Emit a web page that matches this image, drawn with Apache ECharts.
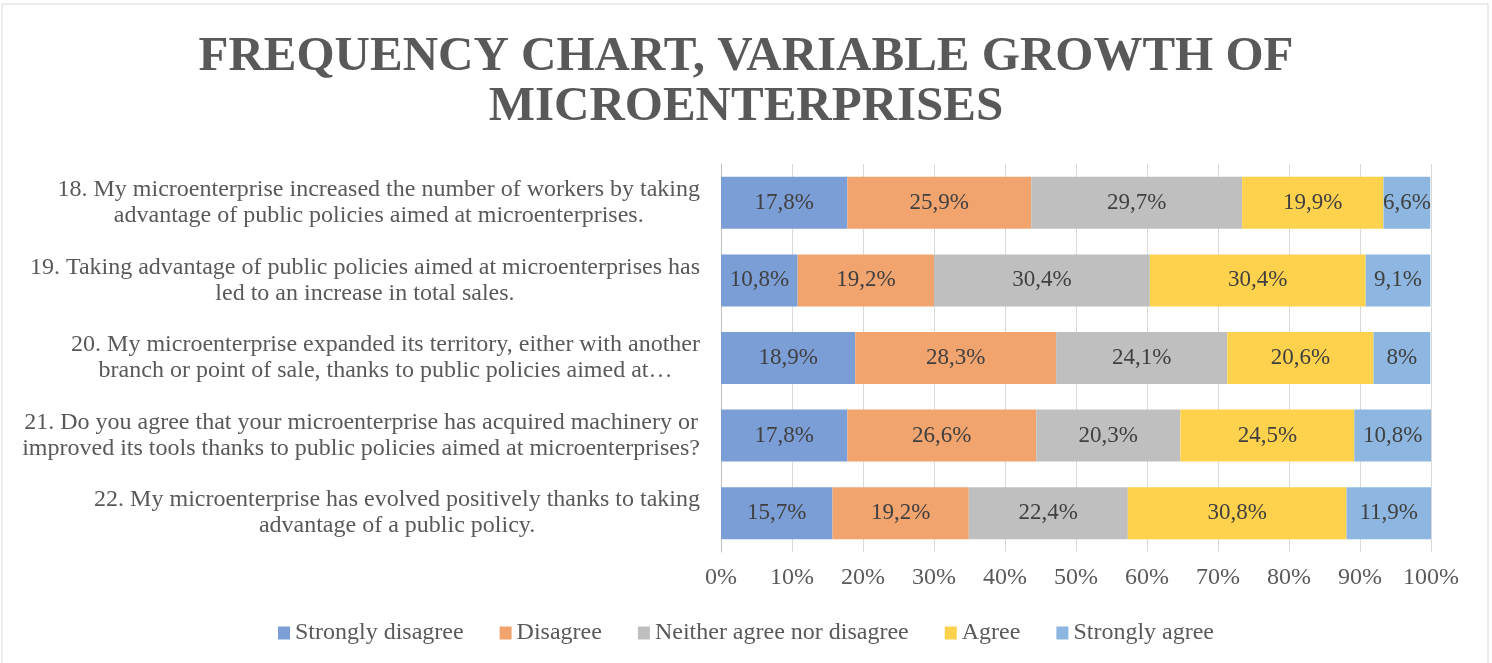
<!DOCTYPE html>
<html>
<head>
<meta charset="utf-8">
<title>Frequency chart, variable growth of microenterprises</title>
<script src="https://cdn.jsdelivr.net/npm/echarts@6/dist/echarts.min.js"></script>
<style>
    html, body { margin: 0; padding: 0; background: #fff; }
    #chart { width: 1492px; height: 663px; }
</style>
</head>
<body>
<div id="chart"></div>
<script>
var questions = [
    '18. My microenterprise increased the number of workers by taking\nadvantage of public policies aimed at microenterprises.',
    '19. Taking advantage of public policies aimed at microenterprises has\nled to an increase in total sales.',
    '20. My microenterprise expanded its territory, either with another\nbranch or point of sale, thanks to public policies aimed at…',
    '21. Do you agree that your microenterprise has acquired machinery or\nimproved its tools thanks to public policies aimed at microenterprises?',
    '22. My microenterprise has evolved positively thanks to taking\nadvantage of a public policy.'
];
var answers = ['Strongly disagree', 'Disagree', 'Neither agree nor disagree', 'Agree', 'Strongly agree'];

// percent per answer, one value per question (18..22)
var stronglyDisagree = [17.8, 10.8, 18.9, 17.8, 15.7];
var disagree = [25.9, 19.2, 28.3, 26.6, 19.2];
var neither = [29.7, 30.4, 24.1, 20.3, 22.4];
var agree = [19.9, 30.4, 20.6, 24.5, 30.8];
var stronglyAgree = [6.6, 9.1, 8, 10.8, 11.9];

var tickLabels = ['0%', '10%', '20%', '30%', '40%', '50%', '60%', '70%', '80%', '90%', '100%'];

var colors = ['#7C9ED6', '#F2A46F', '#BFBFBF', '#FFD24D', '#8DB7E0'];
var fontFamily = '"Liberation Serif", "Times New Roman", serif';

function pctLabel(p) {
    return String(p.value).replace('.', ',') + '%';
}

function makeSeries(name, values, color) {
    return {
        name: name,
        type: 'bar',
        stack: 'total',
        barWidth: 52,
        data: values,
        itemStyle: {color: color},
        label: {
            show: true,
            position: 'inside',
            formatter: pctLabel,
            color: '#404040',
            fontSize: 23,
            fontFamily: fontFamily
        },
        emphasis: {disabled: true}
    };
}

var seriesValues = [stronglyDisagree, disagree, neither, agree, stronglyAgree];
var seriesList = [];
for (var i = 0; i < answers.length; i++) {
    seriesList.push(makeSeries(answers[i], seriesValues[i], colors[i]));
}

var chart = echarts.init(document.getElementById('chart'));
chart.setOption({
    animation: false,
    backgroundColor: '#fff',
    title: {
        text: 'FREQUENCY CHART, VARIABLE GROWTH OF\nMICROENTERPRISES',
        left: 'center',
        top: 32,
        padding: 0,
        textStyle: {
            fontFamily: fontFamily,
            fontSize: 49,
            lineHeight: 50,
            fontWeight: 'bold',
            color: '#595959'
        }
    },
    graphic: [{
        type: 'rect',
        shape: {x: 2, y: 4, width: 1486, height: 680},
        style: {fill: null, stroke: '#D9D9D9', lineWidth: 1},
        silent: true,
        z: -1
    }],
    legend: {
        data: answers,
        left: 'center',
        top: 616,
        icon: 'rect',
        itemWidth: 12,
        itemHeight: 13,
        itemGap: 36,
        textStyle: {fontFamily: fontFamily, fontSize: 24, color: '#595959'}
    },
    grid: {left: 721, right: 61, top: 164, bottom: 111, containLabel: false},
    xAxis: {
        type: 'value',
        min: 0,
        max: 100,
        interval: 10,
        axisLine: {show: false},
        axisTick: {show: false},
        splitLine: {lineStyle: {color: '#D9D9D9', width: 1}},
        axisLabel: {
            margin: 14,
            fontFamily: fontFamily,
            fontSize: 24,
            color: '#595959',
            formatter: function (v) { return tickLabels[Math.round(v / 10)]; }
        }
    },
    yAxis: {
        type: 'category',
        inverse: true,
        data: questions,
        axisLine: {show: true, lineStyle: {color: '#BFBFBF'}},
        axisTick: {show: false},
        axisLabel: {
            interval: 0,
            margin: 21,
            align: 'right',
            formatter: function (v) {
                return v.split('\n').map(function (l) { return '{c|' + l + '}'; }).join('\n');
            },
            rich: {
                c: {
                    align: 'center',
                    fontFamily: fontFamily,
                    fontSize: 24,
                    lineHeight: 26,
                    color: '#595959'
                }
            }
        }
    },
    series: seriesList
});
</script>
</body>
</html>
